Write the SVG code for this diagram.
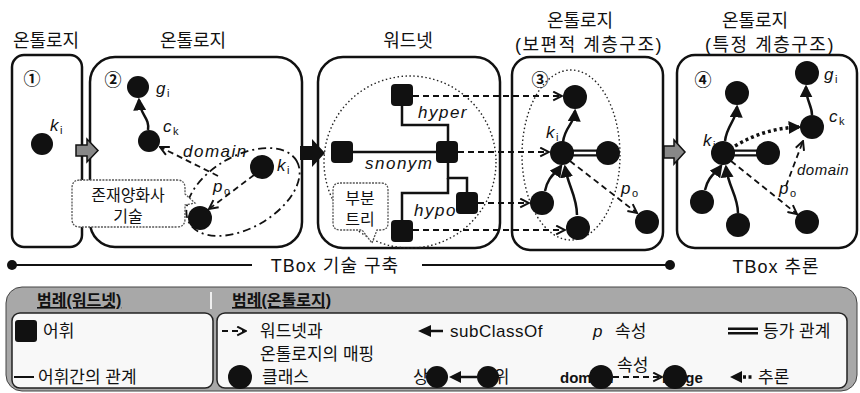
<svg xmlns="http://www.w3.org/2000/svg" width="860" height="393" viewBox="0 0 860 393">
<style>
text{font-family:"Liberation Sans","Noto Sans CJK KR",sans-serif;fill:#111}
.t{font-size:18px;text-anchor:middle}
.box{fill:#fff;stroke:#111;stroke-width:2.5}
.n{fill:#111}
.lbl{font-size:17px;font-style:italic;letter-spacing:1.5px}
.sub{font-size:11px;font-style:normal}
.num{font-size:17px;font-weight:bold;text-anchor:middle}
.dash{fill:none;stroke:#111;stroke-width:1.8;stroke-dasharray:6 4}
.sc{fill:none;stroke:#111;stroke-width:2.5}
.wl{fill:none;stroke:#111;stroke-width:2.5}
.lg{font-size:17px}
.ct{font-size:16px;text-anchor:middle}
.co{fill:#fff;stroke:#555;stroke-width:1.3;stroke-dasharray:2 1.2}
.blk{fill:#888;stroke:#111;stroke-width:1.5}
</style>
<defs>
<marker id="tri" viewBox="0 0 10 10" refX="8" refY="5" markerWidth="13" markerHeight="13" markerUnits="userSpaceOnUse" orient="auto"><path d="M0,0 L10,5 L0,10 z" fill="#111"/></marker>
<marker id="opn" viewBox="0 0 10 10" refX="9" refY="5" markerWidth="11" markerHeight="11" markerUnits="userSpaceOnUse" orient="auto"><path d="M1,1 L9,5 L1,9" fill="none" stroke="#111" stroke-width="1.8"/></marker>
</defs>

<g id="titles">
<text class="t" x="46" y="47">온톨로지</text>
<text class="t" x="193" y="47">온톨로지</text>
<text class="t" x="408" y="47">워드넷</text>
<text class="t" x="580" y="27">온톨로지</text>
<text class="t" x="589" y="51" letter-spacing="1.5">(보편적 계층구조)</text>
<text class="t" x="755" y="27">온톨로지</text>
<text class="t" x="770" y="51" letter-spacing="1.5">(특정 계층구조)</text>
</g>

<g id="frames">
<rect class="box" x="12" y="55" width="70" height="192" rx="12"/>
<rect class="box" x="90" y="57" width="212" height="190" rx="25"/>
<rect class="box" x="318" y="57" width="182" height="191" rx="25"/>
<rect class="box" x="512" y="57" width="151" height="193" rx="18"/>
<rect class="box" x="677" y="55" width="180" height="193" rx="18"/>
<text class="num" x="32" y="85">①</text>
<text class="num" x="113" y="86">②</text>
<text class="num" x="540" y="86">③</text>
<text class="num" x="703" y="86">④</text>
<circle cx="410" cy="162" r="86" fill="none" stroke="#222" stroke-width="1.4" stroke-dasharray="1.5 2.5"/>
<ellipse cx="571" cy="155" rx="49" ry="85" fill="none" stroke="#222" stroke-width="1.4" stroke-dasharray="1.5 2.5"/>
<ellipse cx="243" cy="192" rx="62" ry="36" transform="rotate(-30 243 192)" fill="none" stroke="#111" stroke-width="1.8" stroke-dasharray="8 4 2 4"/>
<path class="blk" d="M76,145 H87 V139 L98,150.5 L87,162 V156 H76 Z"/>
<path d="M300,146 H312 V139 L325,153 L312,167 V160 H300 Z" fill="#111"/>
<path class="blk" d="M664,146 H674 V140 L685,152 L674,164 V158 H664 Z"/>
</g>

<g id="timeline">
<circle cx="12" cy="265" r="5" fill="#111"/>
<line x1="12" y1="265" x2="252" y2="265" stroke="#111" stroke-width="2"/>
<text class="t" x="335" y="272" letter-spacing="1">TBox 기술 구축</text>
<line x1="422" y1="265" x2="668" y2="265" stroke="#111" stroke-width="2"/>
<circle cx="670" cy="265" r="5" fill="#111"/>
<text class="t" x="776" y="273" letter-spacing="1">TBox 추론</text>
</g>

<g id="connectors">
<path class="sc" d="M148,130 C150,118 140,115 139,100" marker-end="url(#tri)"/>
<path class="dash" d="M254,175 L209,209" marker-end="url(#opn)"/>
<path class="dash" d="M218,176 L160,147" marker-end="url(#opn)"/>
<text class="lbl" x="183" y="157">domain</text>
<text class="lbl" x="213" y="192">p<tspan class="sub" dy="3">o</tspan></text>
<path class="wl" d="M402,95 V125 H448 V152"/>
<path class="wl" d="M342,152 H448"/>
<path class="wl" d="M448,152 V178 H467 V203"/>
<path class="wl" d="M448,178 V193 H402 V232"/>
<text class="lbl" x="418" y="118">hyper</text>
<text class="lbl" x="365" y="169">snonym</text>
<text class="lbl" x="414" y="216">hypo</text>
<path class="dash" d="M413,96 H562" marker-end="url(#opn)"/>
<path class="dash" d="M458,152 H549" marker-end="url(#opn)"/>
<path class="dash" d="M478,203 H529" marker-end="url(#opn)"/>
<path class="dash" d="M413,230 H565" marker-end="url(#opn)"/>
<path class="sc" d="M563,142 C565,126 574,125 575,111" marker-end="url(#tri)"/>
<path class="sc" d="M545,191 C548,176 556,173 561,166" marker-end="url(#tri)"/>
<path class="sc" d="M577,215 C577,196 568,186 565,167" marker-end="url(#tri)"/>
<line x1="570" y1="153" x2="600" y2="153" stroke="#111" stroke-width="7"/>
<line x1="570" y1="153" x2="600" y2="153" stroke="#fff" stroke-width="2.5"/>
<path class="dash" d="M570,161 L637,213" marker-end="url(#opn)"/>
<text class="lbl" x="621" y="194">p<tspan class="sub" dy="3">o</tspan></text>
<path class="sc" d="M725,141 C727,125 736,121 737,107" marker-end="url(#tri)"/>
<path class="sc" d="M705,190 C708,176 716,173 721,166" marker-end="url(#tri)"/>
<path class="sc" d="M738,213 C738,196 728,186 726,167" marker-end="url(#tri)"/>
<line x1="731" y1="153" x2="760" y2="153" stroke="#111" stroke-width="7"/>
<line x1="731" y1="153" x2="760" y2="153" stroke="#fff" stroke-width="2.5"/>
<path class="dash" d="M731,161 L797,214" marker-end="url(#opn)"/>
<path d="M735,146 C755,134 775,128 799,127" fill="none" stroke="#111" stroke-width="3.5" stroke-dasharray="3 3" marker-end="url(#tri)"/>
<path class="sc" d="M812,115 C812,105 806,101 806,87" marker-end="url(#tri)"/>
<path class="dash" d="M786,186 L803,141" marker-end="url(#opn)"/>
<text class="lbl" x="797" y="175" style="font-size:15px;letter-spacing:0.5px">domain</text>
<text class="lbl" x="779" y="194">p<tspan class="sub" dy="3">o</tspan></text>
</g>

<g id="callout-existential">
<path class="co" d="M80,180 H177 Q185,180 185,188 V194 L195,203 L185,205 V219 Q185,227 177,227 H80 Q72,227 72,219 V188 Q72,180 80,180 Z"/>
<text class="ct" x="128" y="201">존재양화사</text>
<text class="ct" x="128" y="222">기술</text>
</g>
<g id="callout-subtree">
<path class="co" d="M340,183 H381 Q388,183 388,190 V223 Q388,230 381,230 H377 L372,243 L362,230 H340 Q333,230 333,223 V190 Q333,183 340,183 Z"/>
<text class="ct" x="360" y="204">부분</text>
<text class="ct" x="360" y="225">트리</text>
</g>

<g id="b1-ki"><circle class="n" cx="42" cy="144" r="11"/><text class="lbl" x="50" y="131">k<tspan class="sub" dy="3">i</tspan></text></g>
<g id="b2-gi"><circle class="n" cx="138" cy="87" r="11"/><text class="lbl" x="156" y="94">g<tspan class="sub" dy="3">i</tspan></text></g>
<g id="b2-ck"><circle class="n" cx="149" cy="141" r="11"/><text class="lbl" x="163" y="132">c<tspan class="sub" dy="3">k</tspan></text></g>
<g id="b2-ki"><circle class="n" cx="262" cy="167" r="12"/><text class="lbl" x="277" y="171">k<tspan class="sub" dy="3">i</tspan></text></g>
<g id="b2-o"><circle class="n" cx="200" cy="218" r="12"/></g>

<g id="w-top"><rect x="391" y="84" width="22" height="22" rx="4" fill="#111"/></g>
<g id="w-left"><rect x="331" y="141" width="22" height="22" rx="4" fill="#111"/></g>
<g id="w-mid"><rect x="436" y="141" width="22" height="22" rx="4" fill="#111"/></g>
<g id="w-right"><rect x="456" y="192" width="22" height="22" rx="4" fill="#111"/></g>
<g id="w-bottom"><rect x="391" y="220" width="22" height="22" rx="4" fill="#111"/></g>

<g id="b3-top"><circle class="n" cx="575" cy="97" r="12"/></g>
<g id="b3-ki"><circle class="n" cx="562" cy="153" r="12"/><text class="lbl" x="546" y="138">k<tspan class="sub" dy="3">i</tspan></text></g>
<g id="b3-right"><circle class="n" cx="608" cy="153" r="12"/></g>
<g id="b3-ll"><circle class="n" cx="542" cy="203" r="12"/></g>
<g id="b3-bottom"><circle class="n" cx="578" cy="228" r="12"/></g>
<g id="b3-o"><circle class="n" cx="647" cy="222" r="12"/></g>

<g id="b4-top"><circle class="n" cx="737" cy="93" r="12"/></g>
<g id="b4-gi"><circle class="n" cx="807" cy="73" r="12"/><text class="lbl" x="824" y="80">g<tspan class="sub" dy="3">i</tspan></text></g>
<g id="b4-ck"><circle class="n" cx="812" cy="127" r="12"/><text class="lbl" x="829" y="122">c<tspan class="sub" dy="3">k</tspan></text></g>
<g id="b4-ki"><circle class="n" cx="723" cy="153" r="12"/><text class="lbl" x="703" y="146">k<tspan class="sub" dy="3">i</tspan></text></g>
<g id="b4-right"><circle class="n" cx="768" cy="153" r="12"/></g>
<g id="b4-bl"><circle class="n" cx="702" cy="202" r="12"/></g>
<g id="b4-bottom"><circle class="n" cx="738" cy="225" r="12"/></g>
<g id="b4-o"><circle class="n" cx="807" cy="222" r="12"/></g>

<g id="legend">
<rect x="6" y="287" width="851" height="104" rx="16" fill="#a8a8a8" stroke="#444" stroke-width="1"/>
<text x="37" y="306" font-size="16" font-weight="bold" text-decoration="underline">범례(워드넷)</text>
<line x1="211" y1="292" x2="211" y2="309" stroke="#eee" stroke-width="2"/>
<text x="232" y="306" font-size="16" font-weight="bold" text-decoration="underline">범례(온톨로지)</text>
<rect x="12" y="313" width="201" height="75" rx="8" fill="#f8f8f8" stroke="#222" stroke-width="1.5"/>
<rect x="217" y="313" width="630" height="75" rx="8" fill="#f8f8f8" stroke="#222" stroke-width="1.5"/>
<rect x="15" y="320" width="22" height="22" rx="3" fill="#111"/>
<text class="lg" x="43" y="337">어휘</text>
<line x1="14" y1="377" x2="34" y2="377" stroke="#111" stroke-width="2"/>
<text class="lg" x="38" y="383">어휘간의 관계</text>
<path class="dash" d="M222,331 H246" stroke-dasharray="4 4" marker-end="url(#opn)"/>
<text class="lg" x="260" y="337">워드넷과</text>
<text class="lg" x="260" y="360">온톨로지의 매핑</text>
<circle cx="240" cy="377" r="12" fill="#111"/>
<text class="lg" x="262" y="383">클래스</text>
<path d="M418,331 L431,325 L431,337 Z" fill="#111"/>
<line x1="430" y1="331" x2="443" y2="331" stroke="#111" stroke-width="2.5"/>
<text class="lg" x="450" y="337" letter-spacing="0.5">subClassOf</text>
<text class="lg" x="593" y="337" font-style="italic">p</text>
<text class="lg" x="615" y="337">속성</text>
<line x1="728" y1="331" x2="758" y2="331" stroke="#111" stroke-width="7"/>
<line x1="728" y1="331" x2="758" y2="331" stroke="#f8f8f8" stroke-width="2"/>
<text class="lg" x="763" y="337">등가 관계</text>
<text class="lg" x="413" y="383">상위</text>
<circle cx="437" cy="377" r="11" fill="#111"/>
<path d="M449,377 L461,371 L461,383 Z" fill="#111"/>
<line x1="460" y1="377" x2="477" y2="377" stroke="#111" stroke-width="2.5"/>
<text class="lg" x="478" y="383">하위</text>
<circle cx="488" cy="377" r="11" fill="#111"/>
<text x="560" y="383" font-size="15" font-weight="bold">domain</text>
<circle cx="601" cy="377" r="12" fill="#111"/>
<path class="dash" d="M613,377 H662" stroke-dasharray="4 3" marker-end="url(#opn)"/>
<text class="lg" x="617" y="371">속성</text>
<text x="662" y="383" font-size="15" font-weight="bold">range</text>
<circle cx="675" cy="377" r="12" fill="#111"/>
<path d="M730,377 L742,371 L742,383 Z" fill="#111"/>
<line x1="743" y1="377" x2="754" y2="377" stroke="#111" stroke-width="3.5" stroke-dasharray="3 2.5"/>
<text class="lg" x="758" y="383">추론</text>
</g>
</svg>
